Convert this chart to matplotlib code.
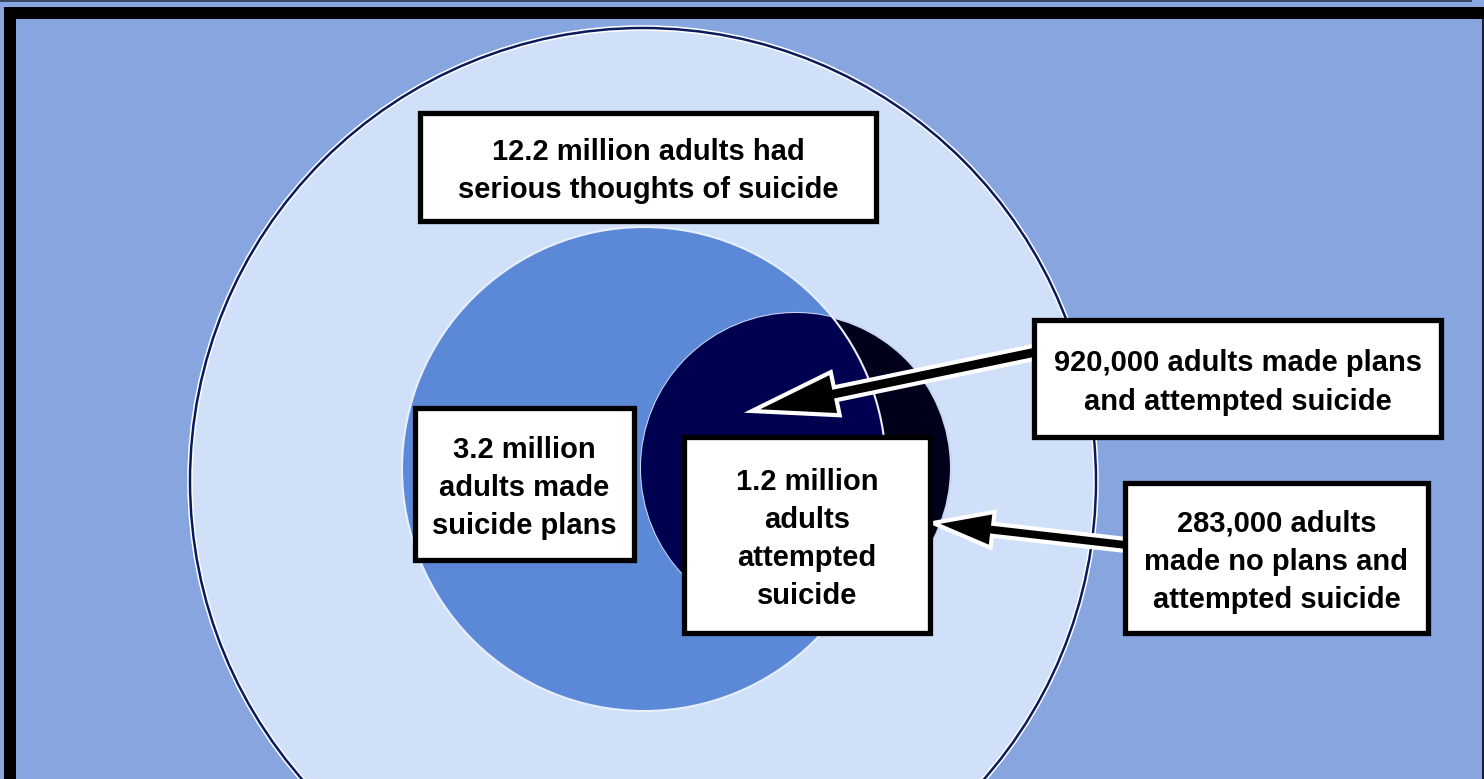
import matplotlib.pyplot as plt
from matplotlib.patches import Circle, Rectangle, FancyArrow

# Labels (counts of adults)
label_thoughts = "12.2 million adults had\nserious thoughts of suicide"
label_plans = "3.2 million\nadults made\nsuicide plans"
label_attempt = "1.2 million\nadults\nattempted\nsuicide"
label_plans_attempt = "920,000 adults made plans\nand attempted suicide"
label_noplans_attempt = "283,000 adults\nmade no plans and\nattempted suicide"

W, H = 1484, 779
bg = '#87a6e0'

fig = plt.figure(figsize=(W / 100, H / 100), dpi=100)
fig.patch.set_facecolor(bg)
ax = fig.add_axes([0, 0, 1, 1])
ax.set_xlim(0, W)
ax.set_ylim(H, 0)
ax.axis('off')

# frame: thin dark line at very top, thick black border top and left
ax.add_patch(Rectangle((0, 0), W - 12, 1.5, fc='#3a4660', ec='none'))
ax.add_patch(Rectangle((4, 7), W, 12, fc='black', ec='none'))
ax.add_patch(Rectangle((4, 7), 12, H, fc='black', ec='none'))
ax.add_patch(Rectangle((W - 2, 19), 2, H, fc='#1a2030', ec='none'))

# circles
big = Circle((643, 481), 453, fc='#d0e0f9', ec='white', lw=4, zorder=2)
ax.add_patch(big)
ax.add_patch(Circle((643, 481), 453, fc='none', ec='#0b1a5c', lw=1.8, zorder=2))

mid = Circle((644, 469), 242, fc='#5b89d8', ec='none', zorder=3)
ax.add_patch(mid)

ax.add_patch(Circle((796, 468), 155, fc='#00001a', ec='#c8d8f4', lw=1.5, zorder=4))
inner = Circle((796, 468), 155, fc='#000050', ec='none', zorder=5)
ax.add_patch(inner)
inner.set_clip_path(Circle((644, 469), 242, transform=ax.transData))
ax.add_patch(Circle((644, 469), 242, fc='none', ec='#e8f0ff', lw=1.5, zorder=6))

# arrows
ax.add_patch(FancyArrow(1036, 352, 752 - 1036, 411 - 352, width=13, head_width=44,
                        head_length=85, length_includes_head=True,
                        fc='black', ec='white', lw=3, zorder=7))
ax.add_patch(FancyArrow(1126, 545, 933 - 1126, 523 - 545, width=12, head_width=36,
                        head_length=60, length_includes_head=True,
                        fc='black', ec='white', lw=3, zorder=7))

# label boxes (x0, y0, x1, y1)
boxes = [
    (label_thoughts, (420, 113, 876, 221)),
    (label_plans, (415, 408, 634, 560)),
    (label_attempt, (684, 437, 930, 633)),
    (label_plans_attempt, (1034, 320, 1441, 437)),
    (label_noplans_attempt, (1125, 483, 1428, 633)),
]
for text, (x0, y0, x1, y1) in boxes:
    ax.add_patch(Rectangle((x0, y0), x1 - x0, y1 - y0, fc='white', ec='black',
                           lw=3.8, zorder=8))
    ax.text((x0 + x1) / 2, (y0 + y1) / 2 + 4, text, ha='center', va='center',
            fontsize=21, fontweight='bold', family='Liberation Sans',
            linespacing=1.46, color='black', zorder=9)

fig.savefig('out.png', dpi=100, facecolor=bg)
